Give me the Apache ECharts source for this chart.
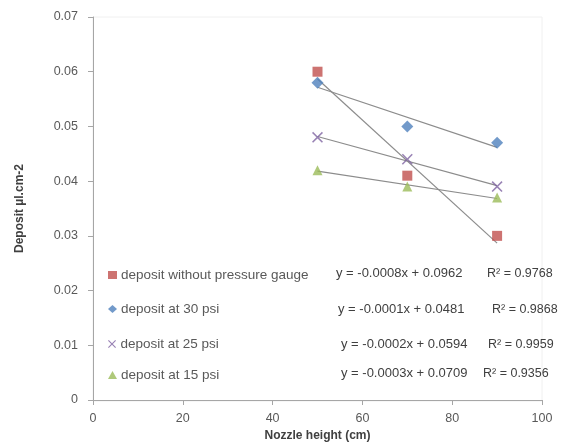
<!DOCTYPE html>
<html><head><meta charset="utf-8">
<script src="https://cdn.jsdelivr.net/npm/echarts@6/dist/echarts.min.js"></script>
<style>html,body{margin:0;padding:0;background:#fff}#c{width:562px;height:447px}</style>
</head><body><div id="c"></div>
<script>
const xHeights = [50, 70, 90];
const seriesNames = ['deposit without pressure gauge', 'deposit at 30 psi', 'deposit at 25 psi', 'deposit at 15 psi'];
const noGauge = [0.060, 0.041, 0.030];
const psi30 = [0.058, 0.050, 0.047];
const psi25 = [0.048, 0.044, 0.039];
const psi15 = [0.042, 0.039, 0.037];
const equations = ['y = -0.0008x + 0.0962', 'y = -0.0001x + 0.0481', 'y = -0.0002x + 0.0594', 'y = -0.0003x + 0.0709'];
const rSquared = ['R² = 0.9768', 'R² = 0.9868', 'R² = 0.9959', 'R² = 0.9356'];
const xTicks = [0, 20, 40, 60, 80, 100];
const yTicks = [0, 0.01, 0.02, 0.03, 0.04, 0.05, 0.06, 0.07];

const allValues = [noGauge, psi30, psi25, psi15];
const colors = ['#C0504D', '#4F81BD', '#8064A2', '#9BBB59'];
const xSymbol = 'path://M1,0L5,4L9,0L10,1L6,5L10,9L9,10L5,6L1,10L0,9L4,5L0,1Z';
const symbols = ['rect', 'diamond', xSymbol, 'triangle'];
const font = 'Liberation Sans, Arial, sans-serif';

function fit(xs, ys) {
  const n = xs.length;
  const mx = xs.reduce((a, b) => a + b, 0) / n;
  const my = ys.reduce((a, b) => a + b, 0) / n;
  let sxy = 0, sxx = 0;
  for (let i = 0; i < n; i++) { sxy += (xs[i] - mx) * (ys[i] - my); sxx += (xs[i] - mx) ** 2; }
  const b = sxy / sxx;
  return [b, my - b * mx];
}

const series = [];
allValues.forEach((vals, i) => {
  const [b, a] = fit(xHeights, vals);
  const x0 = xHeights[0], x1 = xHeights[xHeights.length - 1];
  series.push({
    type: 'line', data: [[x0, a + b * x0], [x1, a + b * x1]],
    symbol: 'none', lineStyle: { color: '#8C8C8C', width: 1.2 }, silent: true, z: 1
  });
});
allValues.forEach((vals, i) => {
  series.push({
    name: seriesNames[i], type: 'scatter',
    data: xHeights.map((x, j) => [x, vals[j]]),
    symbol: symbols[i],
    symbolSize: i === 1 ? 12 : (i === 2 ? 11 : 10),
    itemStyle: { color: colors[i] }, z: 3
  });
});

const legendTops = [263, 297, 332, 363];
const legends = seriesNames.map((n, i) => ({
  data: [{ name: n, icon: symbols[i] }],
  left: 103, top: legendTops[i], orient: 'vertical',
  itemWidth: 9, itemHeight: 8, itemGap: 4,
  textStyle: { color: '#595959', fontSize: 13.5, fontFamily: font, padding: [0, 0, 0, -1] },
  selectedMode: false
}));

const eqY = [275, 311, 346, 375];
const eqX = [336, 338, 341, 341];
const rX = [487, 492, 488, 483];
const graphics = [];
equations.forEach((e, i) => {
  graphics.push({ type: 'text', left: eqX[i], top: eqY[i] - 8, style: { text: e, fill: '#404040', font: '13px ' + font } });
  graphics.push({ type: 'text', left: rX[i], top: eqY[i] - 8, style: { text: rSquared[i], fill: '#404040', font: '12.5px ' + font } });
});
graphics.push({ type: 'rect', shape: { x: 93, y: 17, width: 449, height: 384 }, style: { fill: 'none', stroke: '#F0F0F0', lineWidth: 1 }, z: -1 });

const chart = echarts.init(document.getElementById('c'));
chart.setOption({
  animation: false,
  backgroundColor: '#fff',
  grid: { left: 93, right: 20, top: 17, bottom: 46 },
  legend: legends,
  xAxis: {
    type: 'value', min: xTicks[0], max: xTicks[xTicks.length - 1], interval: 20,
    name: 'Nozzle height (cm)', nameLocation: 'middle', nameGap: 30,
    nameTextStyle: { fontWeight: 'bold', fontSize: 12, color: '#404040', fontFamily: font },
    axisLine: { lineStyle: { color: '#A6A6A6' } },
    axisTick: { show: true, length: 5, lineStyle: { color: '#A6A6A6' } },
    axisLabel: { color: '#595959', fontSize: 12.5, fontFamily: font, margin: 12 },
    splitLine: { show: false }
  },
  yAxis: {
    type: 'value', min: yTicks[0], max: yTicks[yTicks.length - 1], interval: 0.01,
    name: 'Deposit µl.cm-2', nameLocation: 'middle', nameGap: 67, nameRotate: 90,
    nameTextStyle: { fontWeight: 'bold', fontSize: 12, color: '#404040', fontFamily: font },
    axisLine: { show: true, lineStyle: { color: '#A6A6A6' } },
    axisTick: { show: true, length: 5, lineStyle: { color: '#A6A6A6' } },
    axisLabel: { color: '#595959', fontSize: 12.5, fontFamily: font, margin: 15,
      formatter: v => String(+v.toFixed(2)) },
    splitLine: { show: false }
  },
  graphic: graphics,
  series: series
});
</script></body></html>
